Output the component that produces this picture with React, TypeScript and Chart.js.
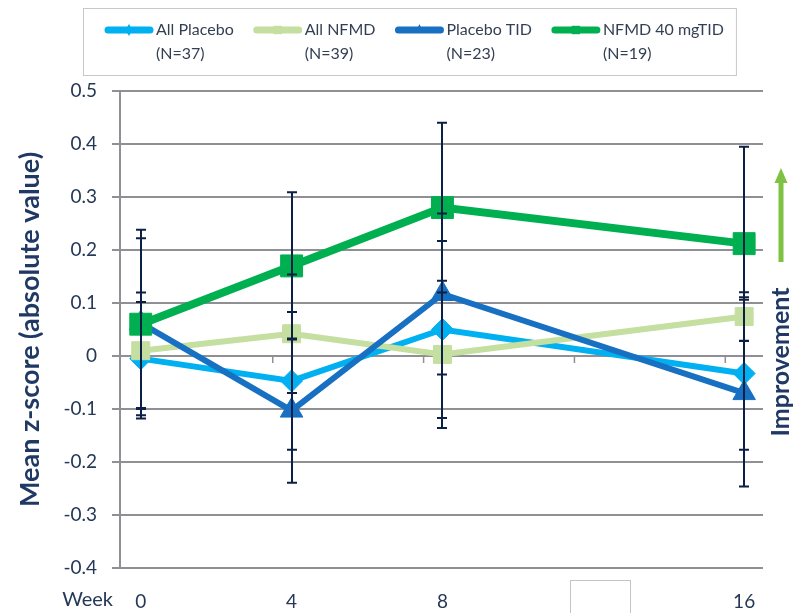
import React, { useEffect, useRef } from 'react';
import { Chart, registerables } from 'chart.js';

Chart.register(...registerables);

// ---------- data ----------
const weeks = [0, 4, 8, 16];
const seriesLabels = ['All Placebo', 'All NFMD', 'Placebo TID', 'NFMD 40 mgTID'];
const groupSizes = ['(N=37)', '(N=39)', '(N=23)', '(N=19)'];

const allPlacebo = [-0.005, -0.047, 0.05, -0.033];
const allNfmd = [0.01, 0.042, 0.003, 0.0745];
const placeboTid = [0.062, -0.103, 0.117, -0.07];
const nfmd40Tid = [0.06, 0.17, 0.28, 0.212];

const allPlaceboErr = [0.107, 0.13, 0.167, 0.144];
const allNfmdErr = [0.11, 0.112, 0.139, 0.046];
const placeboTidErr = [0.16, 0.136, 0.152, 0.176];
const nfmd40TidErr = [0.178, 0.139, 0.16, 0.183];

const xTickWeeks = [0, 4, 8, 12, 16];
const xTickLabels = ['0', '4', '8', '', '16'];
const zeroLineTickWeeks = [3.5, 7.5, 11.5, 15.5];
const yMin = -0.4;
const yMax = 0.5;
const yStep = 0.1;

// ---------- styles ----------
const colors = ['#00b0f0', '#c4df9f', '#1770c2', '#00b050'];
const pointStyles = ['rectRot', 'rect', 'triangle', 'rect'];
const pointRadii = [11, 12.7, 13, 15.5];
const lineWidths = [6, 6, 6, 8];
const drawOrders = [3, 2, 1, 0];
const seriesValues = [allPlacebo, allNfmd, placeboTid, nfmd40Tid];
const seriesErrors = [allPlaceboErr, allNfmdErr, placeboTidErr, nfmd40TidErr];

const navy = '#1f3864';
const tickColor = '#253858';
const gridColor = '#8f8f94';
const errColor = '#0c1f45';
const FONT = 'Lato, "Open Sans", "Liberation Sans", sans-serif';
const X_TICK_PAD = 14;
const TICK_SIZE = 19;

function drawMarker(ctx: CanvasRenderingContext2D, style: string, x: number, y: number, r: number, color: string) {
  ctx.save();
  ctx.fillStyle = color;
  ctx.beginPath();
  if (style === 'rectRot') {
    ctx.moveTo(x - r * 0.6, y);
    ctx.lineTo(x, y - r);
    ctx.lineTo(x + r * 0.6, y);
    ctx.lineTo(x, y + r);
  } else if (style === 'triangle') {
    ctx.moveTo(x, y - r);
    ctx.lineTo(x + r * 0.7, y + r * 0.5);
    ctx.lineTo(x - r * 0.7, y + r * 0.5);
  } else {
    ctx.rect(x - r * 0.7, y - r * 0.7, r * 1.4, r * 1.4);
  }
  ctx.closePath();
  ctx.fill();
  ctx.restore();
}

const errorBarPlugin = {
  id: 'errorBars',
  afterDatasetsDraw(chart: any) {
    const { ctx, scales } = chart;
    const yScale = scales.y;
    ctx.save();
    ctx.strokeStyle = errColor;
    ctx.lineWidth = 2;
    chart.data.datasets.forEach((ds: any, di: number) => {
      const meta = chart.getDatasetMeta(di);
      const errs = seriesErrors[di];
      meta.data.forEach((pt: any, i: number) => {
        const v = seriesValues[di][i];
        const e = errs[i];
        const x = Math.round(pt.x);
        const yTop = yScale.getPixelForValue(v + e);
        const yBot = yScale.getPixelForValue(v - e);
        ctx.beginPath();
        ctx.moveTo(x, yTop);
        ctx.lineTo(x, yBot);
        ctx.moveTo(x - 5, yTop);
        ctx.lineTo(x + 5, yTop);
        ctx.moveTo(x - 5, yBot);
        ctx.lineTo(x + 5, yBot);
        ctx.stroke();
      });
    });
    ctx.restore();
  },
};

const decorPlugin = {
  id: 'decor',
  beforeDatasetsDraw(chart: any) {
    const { ctx, scales } = chart;
    const y0 = scales.y.getPixelForValue(0);
    ctx.save();
    ctx.strokeStyle = gridColor;
    ctx.lineWidth = 1.5;
    zeroLineTickWeeks.forEach((w) => {
      const x = scales.x.getPixelForValue(w);
      ctx.beginPath();
      ctx.moveTo(x, y0);
      ctx.lineTo(x, y0 + 7);
      ctx.stroke();
    });
    ctx.restore();
  },
  afterDraw(chart: any) {
    const { ctx, chartArea, scales } = chart;
    ctx.save();

    // ----- legend -----
    ctx.font = `16px ${FONT}`;
    const sampleLen = 48;
    const gapText = 3;
    const itemGap = 20;
    const boxLeft = 83;
    const boxTop = 8;
    const boxH = 67;
    const startX = boxLeft + 22;
    const widths = seriesLabels.map((l, i) =>
      Math.max(ctx.measureText(l).width, ctx.measureText(groupSizes[i]).width)
    );
    let total = 0;
    widths.forEach((w, i) => {
      total += sampleLen + gapText + w + (i < widths.length - 1 ? itemGap : 0);
    });
    const boxRight = startX + total + 12;
    ctx.fillStyle = '#ffffff';
    ctx.fillRect(boxLeft, boxTop, boxRight - boxLeft, boxH);
    ctx.strokeStyle = '#c8c8c8';
    ctx.lineWidth = 1;
    ctx.strokeRect(boxLeft + 0.5, boxTop + 0.5, boxRight - boxLeft, boxH);
    let x = startX;
    const ly1 = boxTop + 22;
    const ly2 = boxTop + 46;
    seriesLabels.forEach((label, i) => {
      ctx.strokeStyle = colors[i];
      ctx.lineWidth = 7;
      ctx.lineCap = 'round';
      ctx.beginPath();
      ctx.moveTo(x + 3, ly1);
      ctx.lineTo(x + sampleLen - 3, ly1);
      ctx.stroke();
      drawMarker(ctx, pointStyles[i], x + sampleLen / 2, ly1, 6, colors[i]);
      ctx.fillStyle = '#333f52';
      ctx.textAlign = 'left';
      ctx.textBaseline = 'middle';
      ctx.fillText(label, x + sampleLen + gapText, ly1);
      ctx.fillText(groupSizes[i], x + sampleLen + gapText, ly2);
      x += sampleLen + gapText + widths[i] + itemGap;
    });

    // ----- "Week" axis label -----
    const xs = scales.x;
    const labelY = xs.top + X_TICK_PAD + (TICK_SIZE * 1.2) / 2;
    ctx.font = `20px ${FONT}`;
    ctx.fillStyle = tickColor;
    ctx.textAlign = 'right';
    ctx.textBaseline = 'middle';
    ctx.fillText('Week', chartArea.left - 7, labelY + 6);

    // ----- blank box over week 12 label -----
    const px12 = xs.getPixelForValue(12);
    ctx.strokeStyle = '#c4c4c4';
    ctx.lineWidth = 1;
    ctx.strokeRect(Math.round(px12 - 23) + 0.5, chartArea.bottom + 12.5, 60, 40);

    // ----- Improvement arrow and text -----
    const ax = chartArea.right + 18;
    const tipY = chartArea.top + 77;
    const baseY = chartArea.top + 171;
    ctx.fillStyle = '#7dc242';
    ctx.fillRect(ax - 2.5, tipY + 13, 5, baseY - tipY - 13);
    ctx.beginPath();
    ctx.moveTo(ax, tipY);
    ctx.lineTo(ax + 6.5, tipY + 15);
    ctx.lineTo(ax - 6.5, tipY + 15);
    ctx.closePath();
    ctx.fill();

    ctx.translate(ax, chartArea.top + 271);
    ctx.rotate(-Math.PI / 2);
    ctx.font = `bold 25px ${FONT}`;
    ctx.fillStyle = navy;
    ctx.textAlign = 'center';
    ctx.textBaseline = 'middle';
    ctx.fillText('Improvement', 0, 0);
    ctx.restore();
  },
};

function fmtY(v: number) {
  const r = Math.round(v * 10) / 10;
  return r === 0 ? '0' : String(r);
}

export default function App() {
  const canvasRef = useRef<HTMLCanvasElement>(null);

  useEffect(() => {
    document.body.style.margin = '0';
    const canvas = canvasRef.current;
    if (!canvas) return;

    const datasets = seriesLabels.map((label, i) => ({
      label,
      data: weeks.map((w, j) => ({ x: w, y: seriesValues[i][j] })),
      borderColor: colors[i],
      backgroundColor: colors[i],
      borderWidth: lineWidths[i],
      pointStyle: pointStyles[i],
      pointRadius: pointRadii[i],
      pointBackgroundColor: colors[i],
      pointBorderColor: colors[i],
      pointBorderWidth: 1,
      tension: 0,
      order: drawOrders[i],
      clip: false,
    }));

    const chart = new Chart(canvas, {
      type: 'line',
      data: { datasets },
      options: {
        animation: false,
        responsive: true,
        maintainAspectRatio: false,
        layout: { padding: { top: 91, right: 30, bottom: 0, left: 0 } },
        plugins: {
          legend: { display: false },
          tooltip: { enabled: false },
        },
        scales: {
          x: {
            type: 'linear',
            min: -0.55,
            max: 16.5,
            grid: { display: false },
            border: { display: false },
            afterBuildTicks: (s: any) => {
              s.ticks = xTickWeeks.map((v) => ({ value: v }));
            },
            afterFit: (s: any) => {
              s.height = 45;
            },
            ticks: {
              autoSkip: false,
              maxRotation: 0,
              padding: X_TICK_PAD,
              color: tickColor,
              font: { family: FONT, size: TICK_SIZE },
              callback: (value: any) => {
                const i = xTickWeeks.indexOf(Number(value));
                return i >= 0 ? xTickLabels[i] : '';
              },
            },
          },
          y: {
            min: yMin,
            max: yMax,
            afterFit: (s: any) => {
              s.width = 120;
            },
            grid: { color: gridColor, lineWidth: 2, tickLength: 8 },
            border: { color: gridColor, width: 2 },
            ticks: {
              stepSize: yStep,
              padding: 15,
              color: tickColor,
              font: { family: FONT, size: TICK_SIZE },
              callback: (v: any) => fmtY(Number(v)),
            },
            title: {
              display: true,
              text: 'Mean z-score (absolute value)',
              color: navy,
              font: { family: FONT, size: 27, weight: 'bold' },
              padding: { top: 14, bottom: 0 },
            },
          },
        },
      },
      plugins: [decorPlugin, errorBarPlugin],
    } as any);

    return () => chart.destroy();
  }, []);

  return (
    <div style={{ width: 793, height: 613, position: 'relative' }}>
      <canvas ref={canvasRef} />
    </div>
  );
}
